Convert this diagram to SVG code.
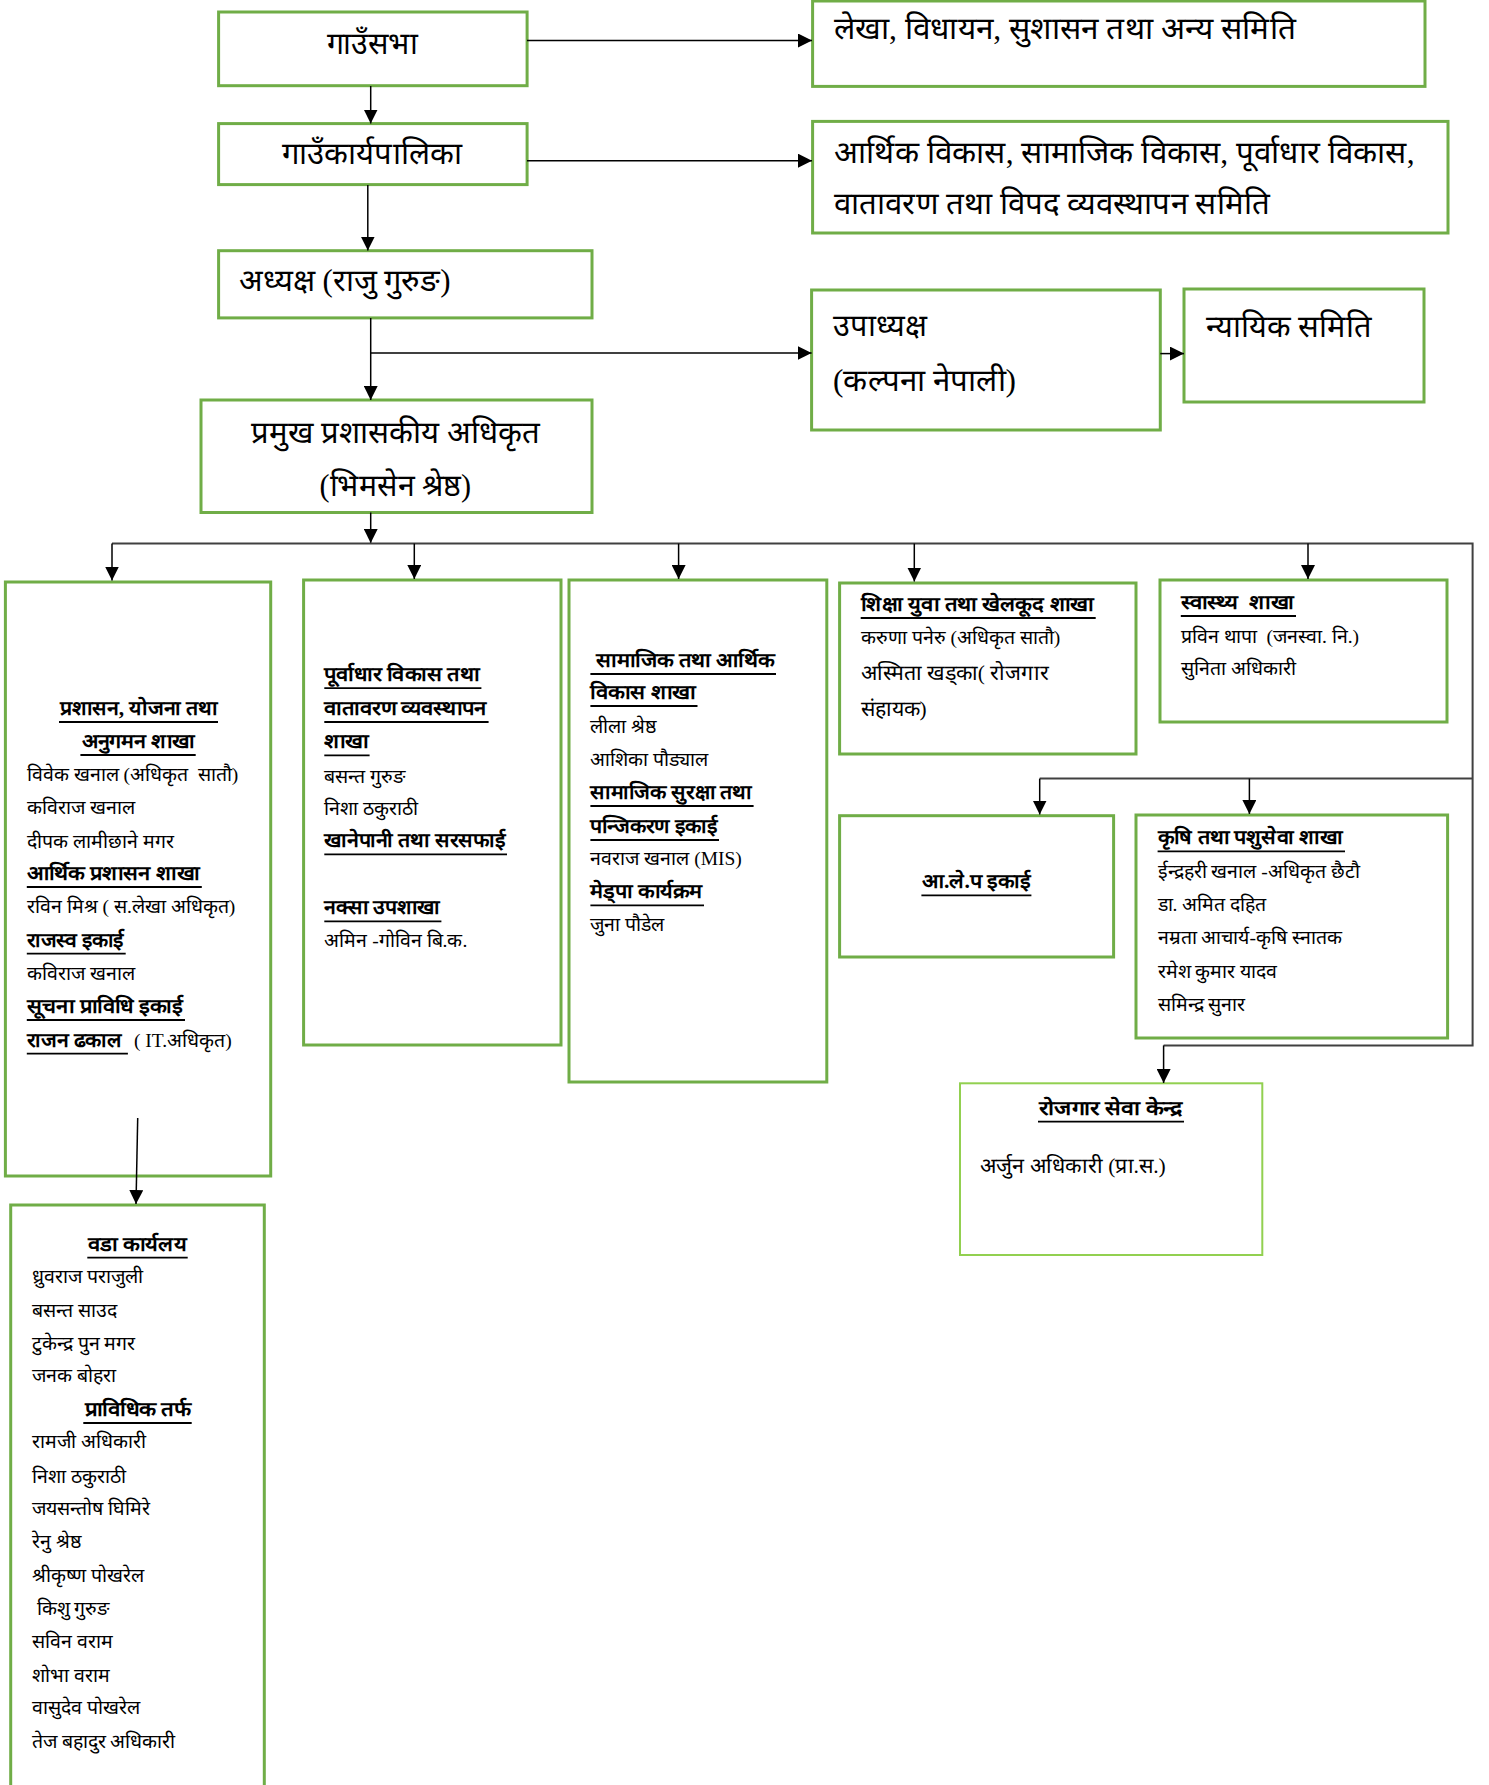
<svg xmlns="http://www.w3.org/2000/svg" width="1489" height="1785" viewBox="0 0 1489 1785">
<defs>
<style>
.box{fill:#fff;stroke:#70ad47;stroke-width:3}
.box2{fill:#fff;stroke:#92d050;stroke-width:2}
.lg{font-family:"Liberation Serif",serif;font-size:31px;fill:#000}
.sm{font-family:"Liberation Serif",serif;font-size:19.5px;fill:#000}
.md{font-family:"Liberation Serif",serif;font-size:21.3px;fill:#000}
.b{font-family:"Liberation Serif",serif;font-size:20px;font-weight:bold;fill:#000}
.mid{text-anchor:middle}
.ul{stroke:#000;stroke-width:1.8}
.c{fill:none;stroke:#000;stroke-width:1.5}
.bus{fill:none;stroke:#404040;stroke-width:2}
</style>
<marker id="ah" markerUnits="userSpaceOnUse" markerWidth="14" markerHeight="14" viewBox="0 0 14 14" refX="14" refY="7" orient="auto">
<path d="M0,0 L14,7 L0,14 z" fill="#000"/>
</marker>
</defs>
<rect width="1489" height="1785" fill="#fff"/>

<g id="gaunsabha">
<rect class="box" x="218.6" y="12" width="308.5" height="73.7"/>
<text class="lg mid" x="372" y="54" textLength="91" lengthAdjust="spacingAndGlyphs">गाउँसभा</text>
</g>

<g id="lekha-samiti">
<rect class="box" x="812.6" y="1" width="612.4" height="85.4"/>
<text class="lg" x="834" y="39" textLength="462" lengthAdjust="spacingAndGlyphs">लेखा, विधायन, सुशासन तथा अन्य समिति</text>
</g>

<g id="gaunkaryapalika">
<rect class="box" x="218.6" y="123.6" width="308.5" height="61"/>
<text class="lg mid" x="372" y="164" textLength="179.6" lengthAdjust="spacingAndGlyphs">गाउँकार्यपालिका</text>
</g>

<g id="arthik-samiti">
<rect class="box" x="812.6" y="121.4" width="635.4" height="111.6"/>
<text class="lg" x="834" y="162.5" textLength="580.5" lengthAdjust="spacingAndGlyphs">आर्थिक विकास, सामाजिक विकास, पूर्वाधार विकास,</text>
<text class="lg" x="834" y="214" textLength="436" lengthAdjust="spacingAndGlyphs">वातावरण तथा विपद व्यवस्थापन समिति</text>
</g>

<g id="adhyaksha">
<rect class="box" x="218.6" y="250.7" width="373.4" height="67.2"/>
<text class="lg" x="239" y="291" textLength="211.6" lengthAdjust="spacingAndGlyphs">अध्यक्ष (राजु गुरुङ)</text>
</g>

<g id="upadhyaksha">
<rect class="box" x="811.6" y="290" width="348.7" height="140"/>
<text class="lg" x="833" y="336" textLength="94" lengthAdjust="spacingAndGlyphs">उपाध्यक्ष</text>
<text class="lg" x="833" y="391" textLength="183" lengthAdjust="spacingAndGlyphs">(कल्पना नेपाली)</text>
</g>

<g id="nyayik-samiti">
<rect class="box" x="1184" y="289" width="240" height="113"/>
<text class="lg" x="1206" y="337" textLength="165.5" lengthAdjust="spacingAndGlyphs">न्यायिक समिति</text>
</g>

<g id="pramukh">
<rect class="box" x="201" y="400" width="391" height="112.5"/>
<text class="lg mid" x="395.8" y="443" textLength="289.5" lengthAdjust="spacingAndGlyphs">प्रमुख प्रशासकीय अधिकृत</text>
<text class="lg mid" x="395.3" y="496" textLength="151.5" lengthAdjust="spacingAndGlyphs">(भिमसेन श्रेष्ठ)</text>
</g>

<g id="prashasan-shakha">
<rect class="box" x="5.4" y="582" width="265.3" height="594"/>
<text class="b mid" x="138.5" y="715" textLength="157" lengthAdjust="spacingAndGlyphs">प्रशासन, योजना तथा</text>
<line class="ul" x1="59" y1="722" x2="218" y2="722"/>
<text class="b mid" x="138" y="748" textLength="113" lengthAdjust="spacingAndGlyphs">अनुगमन शाखा</text>
<line class="ul" x1="80.4" y1="755" x2="195.7" y2="755"/>
<text class="sm" x="26.8" y="781" xml:space="preserve">विवेक खनाल (अधिकृत  सातौ)</text>
<text class="sm" x="26.8" y="814">कविराज खनाल</text>
<text class="sm" x="26.8" y="848">दीपक लामीछाने मगर</text>
<text class="b" x="26.8" y="880" textLength="173" lengthAdjust="spacingAndGlyphs">आर्थिक प्रशासन शाखा</text>
<line class="ul" x1="26.8" y1="887" x2="201.8" y2="887"/>
<text class="sm" x="26.8" y="913">रविन मिश्र ( स.लेखा अधिकृत)</text>
<text class="b" x="26.8" y="946.6" textLength="97" lengthAdjust="spacingAndGlyphs">राजस्व इकाई</text>
<line class="ul" x1="26.8" y1="953.6" x2="125.7" y2="953.6"/>
<text class="sm" x="26.8" y="980">कविराज खनाल</text>
<text class="b" x="26.8" y="1013" textLength="156" lengthAdjust="spacingAndGlyphs">सूचना प्राविधि इकाई</text>
<line class="ul" x1="26.8" y1="1020" x2="185" y2="1020"/>
<text class="b" x="26.8" y="1046.6" textLength="94.6" lengthAdjust="spacingAndGlyphs">राजन ढकाल</text>
<line class="ul" x1="26.8" y1="1053.6" x2="127.9" y2="1053.6"/>
<text class="sm" x="134" y="1046.6">( IT.अधिकृत)</text>
</g>

<g id="purwadhar-shakha">
<rect class="box" x="303.6" y="580" width="257.4" height="465"/>
<text class="b" x="324.3" y="681" textLength="155" lengthAdjust="spacingAndGlyphs">पूर्वाधार विकास तथा</text>
<line class="ul" x1="324.3" y1="688.2" x2="481.4" y2="688.2"/>
<text class="b" x="324.3" y="715" textLength="162" lengthAdjust="spacingAndGlyphs">वातावरण व्यवस्थापन</text>
<line class="ul" x1="324.3" y1="722" x2="488.6" y2="722"/>
<text class="b" x="324.3" y="748.4" textLength="44" lengthAdjust="spacingAndGlyphs">शाखा</text>
<line class="ul" x1="324.3" y1="755.4" x2="369.6" y2="755.4"/>
<text class="sm" x="324.3" y="783">बसन्त गुरुङ</text>
<text class="sm" x="324.3" y="815">निशा ठकुराठी</text>
<text class="b" x="324.3" y="847.3" textLength="181" lengthAdjust="spacingAndGlyphs">खानेपानी तथा सरसफाई</text>
<line class="ul" x1="324.3" y1="854.3" x2="507" y2="854.3"/>
<text class="b" x="324.3" y="914.4" textLength="115" lengthAdjust="spacingAndGlyphs">नक्सा उपशाखा</text>
<line class="ul" x1="324.3" y1="921.4" x2="441.4" y2="921.4"/>
<text class="sm" x="324.3" y="947">अमिन -गोविन बि.क.</text>
</g>

<g id="samajik-shakha">
<rect class="box" x="569" y="580" width="257.8" height="502"/>
<text class="b" x="590.4" y="667" xml:space="preserve" textLength="184" lengthAdjust="spacingAndGlyphs"> सामाजिक तथा आर्थिक</text>
<line class="ul" x1="590.4" y1="674" x2="776" y2="674"/>
<text class="b" x="590.4" y="699" textLength="105" lengthAdjust="spacingAndGlyphs">विकास शाखा</text>
<line class="ul" x1="590.4" y1="706" x2="697.5" y2="706"/>
<text class="sm" x="590.4" y="733">लीला श्रेष्ठ</text>
<text class="sm" x="590.4" y="766">आशिका पौड्याल</text>
<text class="b" x="590.4" y="799" textLength="161" lengthAdjust="spacingAndGlyphs">सामाजिक सुरक्षा तथा</text>
<line class="ul" x1="590.4" y1="806" x2="753.6" y2="806"/>
<text class="b" x="590.4" y="833" textLength="127" lengthAdjust="spacingAndGlyphs">पन्जिकरण इकाई</text>
<line class="ul" x1="590.4" y1="840" x2="719" y2="840"/>
<text class="sm" x="590.4" y="865">नवराज खनाल (MIS)</text>
<text class="b" x="590.4" y="898.4" textLength="112" lengthAdjust="spacingAndGlyphs">मेड्पा कार्यक्रम</text>
<line class="ul" x1="590.4" y1="905.4" x2="704" y2="905.4"/>
<text class="sm" x="590.4" y="931">जुना पौडेल</text>
</g>

<g id="shiksha-shakha">
<rect class="box" x="839.6" y="583" width="296.4" height="171"/>
<text class="b" x="860.7" y="611" textLength="233" lengthAdjust="spacingAndGlyphs">शिक्षा युवा तथा खेलकूद शाखा</text>
<line class="ul" x1="860.7" y1="618" x2="1095.7" y2="618"/>
<text class="sm" x="860.7" y="644">करुणा पनेरु (अधिकृत सातौ)</text>
<text class="md" x="860.7" y="680" textLength="188" lengthAdjust="spacingAndGlyphs">अस्मिता खड्का( रोजगार</text>
<text class="md" x="860.7" y="716" textLength="66" lengthAdjust="spacingAndGlyphs">संहायक)</text>
</g>

<g id="swasthya-shakha">
<rect class="box" x="1160" y="580" width="287" height="142"/>
<text class="b" x="1180.8" y="609" xml:space="preserve" textLength="113" lengthAdjust="spacingAndGlyphs">स्वास्थ्य  शाखा</text>
<line class="ul" x1="1180.8" y1="616" x2="1296" y2="616"/>
<text class="sm" x="1180.8" y="643" xml:space="preserve">प्रविन थापा  (जनस्वा. नि.)</text>
<text class="sm" x="1180.8" y="675">सुनिता अधिकारी</text>
</g>

<g id="alep-ikai">
<rect class="box" x="839.6" y="815.7" width="274" height="141.3"/>
<text class="b mid" x="976.4" y="888.4" textLength="108" lengthAdjust="spacingAndGlyphs">आ.ले.प इकाई</text>
<line class="ul" x1="921.4" y1="895.4" x2="1031.4" y2="895.4"/>
</g>

<g id="krishi-shakha">
<rect class="box" x="1136" y="815" width="311.6" height="223"/>
<text class="b" x="1157.6" y="844.4" textLength="185" lengthAdjust="spacingAndGlyphs">कृषि तथा पशुसेवा शाखा</text>
<line class="ul" x1="1157.6" y1="851.4" x2="1345" y2="851.4"/>
<text class="sm" x="1157.6" y="877.5">ईन्द्रहरी खनाल -अधिकृत छैटौ</text>
<text class="sm" x="1157.6" y="911">डा. अमित दहित</text>
<text class="sm" x="1157.6" y="944">नम्रता आचार्य-कृषि स्नातक</text>
<text class="sm" x="1157.6" y="977.5">रमेश कुमार यादव</text>
<text class="sm" x="1157.6" y="1011">समिन्द्र सुनार</text>
</g>

<g id="rojgar-kendra">
<rect class="box2" x="960" y="1083.3" width="302.3" height="171.7"/>
<text class="b mid" x="1111" y="1114.7" textLength="144" lengthAdjust="spacingAndGlyphs">रोजगार सेवा केन्द्र</text>
<line class="ul" x1="1038" y1="1121.7" x2="1184" y2="1121.7"/>
<text class="md" x="980" y="1173" textLength="185.7" lengthAdjust="spacingAndGlyphs">अर्जुन अधिकारी (प्रा.स.)</text>
</g>

<g id="wada-karyalaya">
<rect class="box" x="10.7" y="1205" width="253.6" height="600"/>
<text class="b mid" x="137.5" y="1250.7" textLength="99" lengthAdjust="spacingAndGlyphs">वडा कार्यलय</text>
<line class="ul" x1="87.3" y1="1257.7" x2="187.7" y2="1257.7"/>
<text class="sm" x="31.7" y="1283">ध्रुवराज पराजुली</text>
<text class="sm" x="31.7" y="1317">बसन्त साउद</text>
<text class="sm" x="31.7" y="1350">टुकेन्द्र पुन मगर</text>
<text class="sm" x="31.7" y="1382">जनक बोहरा</text>
<text class="b mid" x="137.5" y="1416" textLength="106" lengthAdjust="spacingAndGlyphs">प्राविधिक तर्फ</text>
<line class="ul" x1="83.3" y1="1423" x2="191.7" y2="1423"/>
<text class="sm" x="31.7" y="1448">रामजी अधिकारी</text>
<text class="sm" x="31.7" y="1483">निशा ठकुराठी</text>
<text class="sm" x="31.7" y="1515">जयसन्तोष घिमिरे</text>
<text class="sm" x="31.7" y="1548">रेनु श्रेष्ठ</text>
<text class="sm" x="31.7" y="1582">श्रीकृष्ण पोखरेल</text>
<text class="sm" x="31.7" y="1615" xml:space="preserve"> किशु गुरुङ</text>
<text class="sm" x="31.7" y="1648">सविन वराम</text>
<text class="sm" x="31.7" y="1682">शोभा वराम</text>
<text class="sm" x="31.7" y="1714">वासुदेव पोखरेल</text>
<text class="sm" x="31.7" y="1748">तेज बहादुर अधिकारी</text>
</g>

<g id="connectors">
<line class="c" x1="527" y1="40.5" x2="812" y2="40.5" marker-end="url(#ah)"/>
<line class="c" x1="527" y1="160.7" x2="812" y2="160.7" marker-end="url(#ah)"/>
<line class="c" x1="370.7" y1="86" x2="370.7" y2="123.5" marker-end="url(#ah)"/>
<line class="c" x1="367.8" y1="185" x2="367.8" y2="250.5" marker-end="url(#ah)"/>
<line class="c" x1="370.7" y1="318" x2="370.7" y2="400" marker-end="url(#ah)"/>
<line class="c" x1="370.7" y1="353" x2="811.6" y2="353" marker-end="url(#ah)"/>
<line class="c" x1="1160.3" y1="353.6" x2="1184" y2="353.6" marker-end="url(#ah)"/>
<line class="c" x1="370.7" y1="512.5" x2="370.7" y2="543" marker-end="url(#ah)"/>
<polyline class="bus" points="112,543.6 1472.6,543.6 1472.6,1045.4 1163.6,1045.4"/>
<line class="bus" x1="1039.7" y1="778.6" x2="1472.6" y2="778.6"/>
<line class="c" x1="112" y1="543.6" x2="112" y2="580.5" marker-end="url(#ah)"/>
<line class="c" x1="414.3" y1="543.6" x2="414.3" y2="579" marker-end="url(#ah)"/>
<line class="c" x1="678.6" y1="543.6" x2="678.6" y2="579" marker-end="url(#ah)"/>
<line class="c" x1="914.3" y1="543.6" x2="914.3" y2="581.5" marker-end="url(#ah)"/>
<line class="c" x1="1308" y1="543.6" x2="1308" y2="579" marker-end="url(#ah)"/>
<line class="c" x1="1039.7" y1="778.6" x2="1039.7" y2="814.5" marker-end="url(#ah)"/>
<line class="c" x1="1249.4" y1="778.6" x2="1249.4" y2="814" marker-end="url(#ah)"/>
<line class="c" x1="1163.6" y1="1045.4" x2="1163.6" y2="1083" marker-end="url(#ah)"/>
<line class="c" x1="137.7" y1="1118" x2="136" y2="1204" marker-end="url(#ah)"/>
</g>
</svg>
